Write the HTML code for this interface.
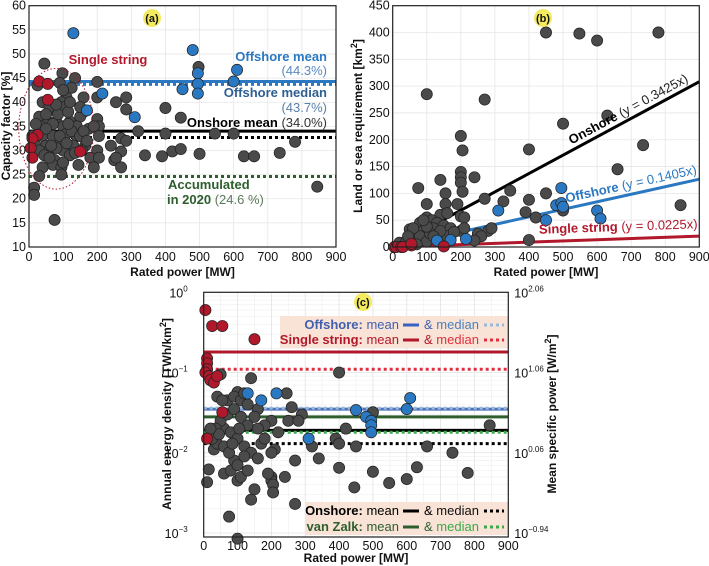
<!DOCTYPE html>
<html><head><meta charset="utf-8">
<style>
html,body{margin:0;padding:0;background:#fff;}
svg{display:block;font-family:"Liberation Sans",Arial,sans-serif;}
</style></head>
<body>
<svg id="fig" width="709" height="566" viewBox="0 0 709 566" xmlns="http://www.w3.org/2000/svg"></svg>
<script>
// ---------- Panel (a) data: capacity factor [%] vs rated power [MW] ----------
const aOnshore = [[45,48],[98,46],[135,45],[200,44.2],[25,43.5],[90,44],[125,43],[110,41],[160,41],[200,41],[285,41],[255,40],[95,40],[105,39],[40,40],[65,38.5],[160,38],[285,38.5],[400,38.8],[445,36.8],[30,37],[55,36],[80,36],[120,36],[150,37],[200,36.5],[60,34],[100,35],[175,34.5],[205,35],[320,34],[400,33.5],[545,33.5],[600,33.5],[10,33],[40,33],[70,33],[110,33.5],[140,33],[205,33],[270,32.5],[285,32],[20,31],[50,31],[85,31],[130,31],[165,31],[240,31],[30,30],[60,30],[100,30],[155,30],[200,30],[270,29.8],[340,29],[390,28.8],[420,29.8],[445,30.3],[500,29.3],[630,28.8],[660,28.8],[735,29.5],[780,31.8],[45,29],[75,28],[120,29],[180,28.5],[205,28.5],[250,28],[255,28.5],[70,27],[95,26.5],[145,27],[190,26.5],[270,26.5],[40,26.5],[30,24.7],[95,25],[15,22.3],[15,20.8],[75,15.6],[845,22.5],[497,47.3],[60,39],[85,37.5],[115,38],[140,35],[70,35.5],[90,33],[125,34],[150,33],[35,35],[50,34.5],[20,35.5],[80,30.5],[110,31.5],[135,29.5],[60,28.5],[100,27.5],[160,34],[170,32],[190,35],[65,31],[115,35.5],[150,39],[100,42.5],[120,40],[80,39.5],[50,37.5]];
const aOffshore = [[130,54.3],[480,50.8],[495,46],[610,46.7],[600,44.3],[495,43.8],[495,41.8],[450,42.7],[215,41.8],[170,38.3],[310,36.9]];
const aSingle = [[30,44.3],[55,43.8],[55,40.5],[25,33.2],[10,32.5],[5,30.5],[10,28.5],[150,29.8]];
const aLevels = {offMean:44.3, offMedian:43.7, onMean:34.0, onMedian:32.7, acc2020:24.6};
const aXTicks = [0,100,200,300,400,500,600,700,800,900];
const aYTicks = [10,15,20,25,30,35,40,45,50,55,60];

// ---------- Panel (b) data: land/sea requirement [km2] ----------
const bOnshore = [[450,400],[548,398],[600,385],[780,400],[100,285],[270,275],[500,230],[630,245],[200,207],[205,180],[400,182],[735,190],[660,145],[140,125],[200,140],[200,130],[200,120],[240,130],[75,110],[155,100],[205,103],[450,100],[345,105],[100,80],[155,80],[190,80],[270,90],[325,85],[400,88],[390,65],[420,55],[500,68],[845,78],[400,13],[140,60],[160,63],[200,57],[210,55],[100,55],[115,50],[130,45],[80,45],[50,33],[60,25],[90,30],[120,35],[150,40],[170,35],[200,30],[210,35],[250,25],[280,30],[290,35],[260,20],[240,12],[60,15],[80,20],[100,10],[130,15],[30,5],[20,8],[40,10],[70,5],[110,25],[160,20],[180,28],[100,38],[140,30],[90,50],[120,20],[60,35],[45,20]];
const bOffshore = [[130,12],[170,13],[215,15],[310,68],[450,50],[480,78],[495,110],[495,82],[500,75],[600,68],[610,53]];
const bSingle = [[5,0],[10,0],[25,0],[30,0],[55,3],[55,6],[150,1]];
const bSlopes = {onshore:0.3425, offshore:0.1405, single:0.0225};
const bXTicks = [0,100,200,300,400,500,600,700,800,900];
const bYTicks = [0,50,100,150,200,250,300,350,400,450];

// ---------- Panel (c) data: annual energy density [TWh/km2] ----------
const cOnshore = [[50,0.095],[140,0.085],[400,0.1],[100,0.057],[245,0.055],[40,0.05],[70,0.045],[90,0.05],[110,0.045],[130,0.04],[160,0.035],[200,0.025],[260,0.037],[290,0.03],[500,0.032],[420,0.02],[390,0.015],[400,0.013],[450,0.012],[845,0.022],[320,0.012],[340,0.0085],[400,0.0065],[445,0.0037],[500,0.0058],[548,0.0042],[600,0.0047],[630,0.0066],[660,0.012],[735,0.010],[780,0.0056],[270,0.0023],[75,0.0016],[100,0.00085],[10,0.0043],[15,0.0062],[30,0.011],[40,0.013],[60,0.02],[80,0.018],[100,0.015],[120,0.012],[140,0.01],[160,0.0085],[60,0.0055],[80,0.006],[100,0.0045],[110,0.005],[140,0.0026],[150,0.0035],[200,0.005],[200,0.0045],[205,0.004],[205,0.0032],[190,0.0055],[240,0.005],[270,0.008],[210,0.011],[200,0.01],[50,0.025],[70,0.03],[90,0.035],[110,0.028],[130,0.022],[180,0.022],[220,0.018],[250,0.025],[280,0.025],[25,0.015],[35,0.02],[45,0.017],[60,0.012],[90,0.008],[100,0.007],[120,0.009],[130,0.006],[170,0.013],[160,0.02],[150,0.028],[180,0.015],[20,0.02],[75,0.01],[85,0.013],[105,0.02],[55,0.045],[120,0.055]];
const cOffshore = [[130,0.055],[170,0.045],[215,0.055],[310,0.015],[450,0.034],[480,0.028],[495,0.025],[495,0.022],[495,0.018],[600,0.035],[610,0.048]];
const cSingle = [[5,0.6],[25,0.38],[55,0.38],[150,0.26],[10,0.15],[10,0.13],[10,0.11],[5,0.1],[15,0.09],[20,0.08],[30,0.075],[40,0.09],[55,0.032],[10,0.015]];
const cLevels = {singleMean:0.18, singleMedian:0.11, offMean:0.035, offMedian:0.036, zalkMean:0.028, onMean:0.019, zalkMedian:0.018, onMedian:0.013};
const cXTicks = [0,100,200,300,400,500,600,700,800,900];
const cYExp = [0,-1,-2,-3];
const cRightLabels = ['2.06','1.06','0.06','-0.94'];

const NS='http://www.w3.org/2000/svg';
const svg=document.getElementById('fig');
function el(tag,attrs,parent,text){const e=document.createElementNS(NS,tag);for(const k in attrs)e.setAttribute(k,attrs[k]);if(text!==undefined)e.textContent=text;(parent||svg).appendChild(e);return e;}
const GRAY='#4a4a4a',BLUE='#2a78c2',RED='#b2182b',GREEN='#2e5e2e';

function linAxis(d0,d1,p0,p1){return v=>p0+(v-d0)/(d1-d0)*(p1-p0);}
function logAxis(e0,e1,p0,p1){return v=>p0+(Math.log10(v)-e0)/(e1-e0)*(p1-p0);}

function drawPoints(g,pts,X,Y,fill,name){
  pts.forEach(p=>{
    const c=el('circle',{cx:X(p[0]),cy:Y(p[1]),r:5.6,fill:fill,stroke:'#222','stroke-width':0.7},g);
    
    
  });
}
function hline(g,y,x0,x1,color,dotted,w,name){
  const l=el('line',{x1:x0,x2:x1,y1:y,y2:y,stroke:color,'stroke-width':w||3},g);
  if(dotted)l.setAttribute('stroke-dasharray','3 3');
  
  
  return l;
}
function badge(x,y,t,name){
  const g=el('g',{});
  
  
  el('circle',{cx:x,cy:y,r:9,fill:'#f3ea60'},g);
  el('text',{x:x,y:y+4,'text-anchor':'middle','font-size':11,'font-weight':'bold',fill:'#111'},g,t);
}
function frame(L,R,T,B,name){
  const f=el('rect',{x:L,y:T,width:R-L,height:B-T,fill:'none',stroke:'#222','stroke-width':1.2});
  
  
}

// ================= Panel A =================
(function(){
  const L=29,R=336,T=5.7,B=247;
  const X=linAxis(0,900,L,R),Y=linAxis(10,60,B,T);
  const g=el('g',{});
  
  
  aXTicks.forEach(v=>{el('line',{x1:X(v),x2:X(v),y1:T,y2:B,stroke:'#e6e6e6','stroke-width':0.8},g);
    const t=el('text',{x:X(v),y:B+14,'text-anchor':'middle','font-size':12.5,fill:'#111'},g,v);
    });
  aYTicks.forEach(v=>{el('line',{x1:L,x2:R,y1:Y(v),y2:Y(v),stroke:'#e6e6e6','stroke-width':0.8},g);
    const t=el('text',{x:L-3,y:Y(v)+4,'text-anchor':'end','font-size':12.5,fill:'#111'},g,v);
    });
  hline(g,Y(aLevels.offMean),L,R,BLUE,false,3,'offshore-mean-line');
  hline(g,Y(aLevels.offMedian),L,R,BLUE,true,3,'offshore-median-line');
  hline(g,Y(aLevels.onMean),L,R,'#000',false,3,'onshore-mean-line');
  hline(g,Y(aLevels.onMedian),L,R,'#000',true,3,'onshore-median-line');
  hline(g,Y(aLevels.acc2020),L,R,GREEN,true,3,'accumulated-2020-line');
  drawPoints(g,aOnshore,X,Y,GRAY,'onshore-point');
  drawPoints(g,aOffshore,X,Y,BLUE,'offshore-point');
  drawPoints(g,aSingle,X,Y,RED,'single-string-point');
  const e=el('ellipse',{cx:X(80),cy:Y(34.5),rx:X(190)-X(80),ry:Y(22)-Y(34.5),fill:'none',stroke:RED,'stroke-width':1,'stroke-dasharray':'1.5 2'},g);
  
  const tx=(x,y,s,c,anchor,name,bold)=>{const t=el('text',{x:x,y:y,'text-anchor':anchor,'font-size':13,fill:c,'font-weight':bold?'bold':'normal'},g,s);return t;};
  tx(108,64,'Single string',RED,'middle','single-string-label',true);
  tx(327,61,'Offshore mean',BLUE,'end','offshore-mean-label',true);
  tx(327,75,'(44.3%)','#5a88c0','end','offshore-mean-value',false);
  tx(327,97,'Offshore median','#2e5f92','end','offshore-median-label',true);
  tx(327,112,'(43.7%)','#5a7fa8','end','offshore-median-value',false);
  const on=tx(327,127,'','#000','end','onshore-mean-label',true);
  el('tspan',{},on,'Onshore mean ');el('tspan',{'font-weight':'normal',fill:'#333'},on,'(34.0%)');
  tx(168,189,'Accumulated',GREEN,'start','accumulated-label',true);
  const a2=tx(167,204,'',GREEN,'start','accumulated-value',true);
  el('tspan',{},a2,'in 2020 ');el('tspan',{'font-weight':'normal',fill:'#5a7a5a'},a2,'(24.6 %)');
  frame(L,R,T,B,'panel-a-frame');
  badge(152,18,'(a)','panel-a-badge');
  const xl=el('text',{x:(L+R)/2,y:276,'text-anchor':'middle','font-size':12,'font-weight':'bold',fill:'#111'},g,'Rated power [MW]');
  
  const yl=el('text',{x:0,y:0,transform:'translate(10,126) rotate(-90)','text-anchor':'middle','font-size':12,'font-weight':'bold',fill:'#111'},g,'Capacity factor [%]');
  
})();

// ================= Panel B =================
(function(){
  const L=392.7,R=699.3,T=5.7,B=247;
  const X=linAxis(0,900,L,R),Y=linAxis(0,450,B,T);
  const g=el('g',{});
  
  
  bXTicks.forEach(v=>{el('line',{x1:X(v),x2:X(v),y1:T,y2:B,stroke:'#e6e6e6','stroke-width':0.8},g);
    const t=el('text',{x:X(v),y:B+14,'text-anchor':'middle','font-size':12.5,fill:'#111'},g,v);
    });
  bYTicks.forEach(v=>{el('line',{x1:L,x2:R,y1:Y(v),y2:Y(v),stroke:'#e6e6e6','stroke-width':0.8},g);
    const t=el('text',{x:L-3,y:Y(v)+4,'text-anchor':'end','font-size':12.5,fill:'#111'},g,v);
    });
  const fit=(k,c,name)=>{const l=el('line',{x1:X(0),y1:Y(0),x2:X(900),y2:Y(k*900),stroke:c,'stroke-width':3},g);};
  fit(bSlopes.onshore,'#000','onshore-fit-line');
  fit(bSlopes.offshore,BLUE,'offshore-fit-line');
  fit(bSlopes.single,RED,'single-string-fit-line');
  drawPoints(g,bOnshore,X,Y,GRAY,'onshore-point');
  drawPoints(g,bOffshore,X,Y,BLUE,'offshore-point');
  drawPoints(g,bSingle,X,Y,RED,'single-string-point');
  const rl=(x,k,dy,parts,name)=>{const ang=Math.atan2(Y(k*900)-Y(0),X(900)-X(0))*180/Math.PI;
    const t=el('text',{x:0,y:0,transform:`translate(${X(x)},${Y(k*x)+dy}) rotate(${ang})`,'font-size':13},g);
    parts.forEach(p=>el('tspan',{fill:p[1],'font-weight':p[2]?'bold':'normal'},t,p[0]));
    };
  rl(525,bSlopes.onshore,-6,[['Onshore ','#000',true],['(y = 0.3425x)','#222',false]],'onshore-fit-label');
  rl(510,bSlopes.offshore,-6,[['Offshore ',BLUE,true],['(y = 0.1405x)',BLUE,false]],'offshore-fit-label');
  rl(430,bSlopes.single,-8,[['Single string ',RED,true],['(y = 0.0225x)',RED,false]],'single-string-fit-label');
  frame(L,R,T,B,'panel-b-frame');
  badge(543,18,'(b)','panel-b-badge');
  const xl=el('text',{x:(L+R)/2,y:276,'text-anchor':'middle','font-size':12,'font-weight':'bold',fill:'#111'},g,'Rated power [MW]');
  
  const yl=el('text',{x:0,y:0,transform:'translate(362,126) rotate(-90)','text-anchor':'middle','font-size':12,'font-weight':'bold',fill:'#111'},g);
  el('tspan',{},yl,'Land or sea requirement [km');el('tspan',{dy:-5,'font-size':9},yl,'2');el('tspan',{dy:5},yl,']');
  
})();

// ================= Panel C =================
(function(){
  const L=203.7,R=508.3,T=292.3,B=537;
  const X=linAxis(0,900,L,R),Y=logAxis(-3.05,0,B,T);
  const g=el('g',{});
  
  
  for(let d=-4;d<0;d++)for(let m=2;m<10;m++){const v=m*Math.pow(10,d);const y=Y(v);if(y<B&&y>T)el('line',{x1:L,x2:R,y1:y,y2:y,stroke:'#f0f0f0','stroke-width':0.7},g);}
  for(let v=50;v<900;v+=100)el('line',{x1:X(v),x2:X(v),y1:T,y2:B,stroke:'#f0f0f0','stroke-width':0.7},g);
  cXTicks.forEach(v=>{el('line',{x1:X(v),x2:X(v),y1:T,y2:B,stroke:'#e2e2e2','stroke-width':0.8},g);
    const t=el('text',{x:X(v),y:B+13,'text-anchor':'middle','font-size':12.5,fill:'#111'},g,v);
    });
  cYExp.forEach((e,i)=>{const y=Y(Math.pow(10,e));el('line',{x1:L,x2:R,y1:y,y2:y,stroke:'#e2e2e2','stroke-width':0.8},g);
    const t=el('text',{x:L-16,y:y+5,'text-anchor':'end','font-size':12.5,fill:'#111'},g,'10');
    el('tspan',{dy:-6,'font-size':8},t,String(e).replace('-','\u2212'));
    
    const r=el('text',{x:R+6,y:y+5,'font-size':12.5,fill:'#111'},g,'10');
    el('tspan',{dy:-6,'font-size':8},r,cRightLabels[i].replace('-','\u2212'));
    });
  const lb1=el('rect',{x:280,y:316,width:R-280,height:32,fill:'#f8e3d6'},g);
  
  const lb2=el('rect',{x:305,y:502,width:R-305,height:33,fill:'#f8e3d6'},g);
  
  hline(g,Y(cLevels.singleMean),L,R,RED,false,3,'single-string-mean-line');
  hline(g,Y(cLevels.singleMedian),L,R,'#e03040',true,3,'single-string-median-line');
  hline(g,Y(cLevels.offMean),L,R,'#4a70c0',false,3,'offshore-mean-line');
  hline(g,Y(cLevels.offMedian),L,R,'#9ab8d8',true,3,'offshore-median-line');
  hline(g,Y(cLevels.zalkMean),L,R,'#2e5e2e',false,3,'van-zalk-mean-line');
  hline(g,Y(cLevels.onMean),L,R,'#000',false,3,'onshore-mean-line');
  hline(g,Y(cLevels.zalkMedian),L,R,'#3aaa4a',true,3,'van-zalk-median-line');
  hline(g,Y(cLevels.onMedian),L,R,'#000',true,3,'onshore-median-line');
  drawPoints(g,cOnshore,X,Y,GRAY,'onshore-point');
  drawPoints(g,cOffshore,X,Y,BLUE,'offshore-point');
  drawPoints(g,cSingle,X,Y,RED,'single-string-point');
  const legend=(y,label,lc,mc,dc,name)=>{
    const t=el('text',{x:399,y:y+4,'text-anchor':'end','font-size':13},g);
    el('tspan',{fill:lc,'font-weight':'bold'},t,label+': ');el('tspan',{fill:lc},t,'mean');
    
    hline(g,y,403,419,mc,false,3,name+'-mean-swatch');
    const t2=el('text',{x:424,y:y+4,'font-size':13,fill:lc},g,'& ');
    el('tspan',{fill:dc[0]},t2,'median');
    
    hline(g,y,484,504,dc[1],true,3,name+'-median-swatch');
  };
  legend(325,'Offshore','#4060b0','#3a60c0',['#4a80c0','#9ab8d8'],'legend-offshore');
  legend(340,'Single string',RED,RED,['#e03040','#e03040'],'legend-single-string');
  legend(511,'Onshore','#000','#000',['#111','#000'],'legend-onshore');
  legend(527,'van Zalk','#2e5e2e','#2e5e2e',['#3aaa4a','#3aaa4a'],'legend-van-zalk');
  frame(L,R,T,B,'panel-c-frame');
  badge(363,302,'(c)','panel-c-badge');
  const xl=el('text',{x:(L+R)/2,y:562,'text-anchor':'middle','font-size':12,'font-weight':'bold',fill:'#111'},g,'Rated power [MW]');
  
  const yl=el('text',{x:0,y:0,transform:'translate(171,414) rotate(-90)','text-anchor':'middle','font-size':12,'font-weight':'bold',fill:'#111'},g);
  el('tspan',{},yl,'Annual energy density [TWh/km');el('tspan',{dy:-5,'font-size':9},yl,'2');el('tspan',{dy:5},yl,']');
  
  const yr=el('text',{x:0,y:0,transform:'translate(556,414) rotate(-90)','text-anchor':'middle','font-size':12,'font-weight':'bold',fill:'#111'},g);
  el('tspan',{},yr,'Mean specific power [W/m');el('tspan',{dy:-5,'font-size':9},yr,'2');el('tspan',{dy:5},yr,']');
  
})();
</script>
</body></html>
